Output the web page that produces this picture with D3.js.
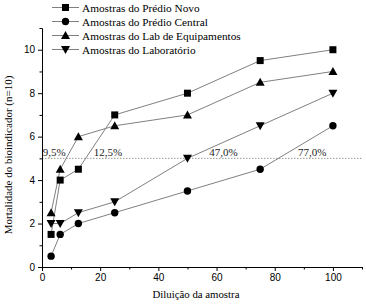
<!DOCTYPE html>
<html>
<head>
<meta charset="utf-8">
<script src="https://cdn.jsdelivr.net/npm/d3@7"></script>
<style>
  body { margin: 0; background: #fff; }
  svg { display: block; }
</style>
</head>
<body>
<div id="chart"></div>
<script>
// dataset
var dilutions = [3.125, 6.25, 12.5, 25, 50, 75, 100];
var seriesNames = ['Amostras do Prédio Novo', 'Amostras do Prédio Central', 'Amostras do Lab de Equipamentos', 'Amostras do Laboratório'];
var predioNovo = [1.5, 4, 4.5, 7, 8, 9.5, 10];
var predioCentral = [0.5, 1.5, 2, 2.5, 3.5, 4.5, 6.5];
var labEquip = [2.5, 4.5, 6, 6.5, 7, 8.5, 9];
var laboratorio = [2, 2, 2.5, 3, 5, 6.5, 8];
var symbols = ['square', 'circle', 'up', 'down'];
var xTicks = [0, 20, 40, 60, 80, 100];
var yTicks = [0, 2, 4, 6, 8, 10];
var refLevel = 5;
var refLabels = ['9,5%', '12,5%', '47,0%', '77,0%'];
var refLabelX = [0.3, 17.8, 57.5, 88];

var allSeries = [predioNovo, predioCentral, labEquip, laboratorio];

// dimensions
var width = 366, height = 305;
var margin = { left: 42, right: 4, top: 28, bottom: 38 };

var svg = d3.select('#chart').append('svg')
    .attr('width', width)
    .attr('height', height);

var x = d3.scaleLinear().domain([0, 110]).range([margin.left, width - margin.right]);
var y = d3.scaleLinear().domain([0, 11]).range([height - margin.bottom, margin.top]);

// reference line
svg.append('line')
    .attr('x1', x(0)).attr('x2', x(110))
    .attr('y1', y(refLevel)).attr('y2', y(refLevel))
    .attr('stroke', '#999')
    .attr('stroke-width', 1)
    .attr('stroke-dasharray', '1.5,1.5');

svg.selectAll('text.ref')
    .data(refLabels)
    .enter().append('text')
    .attr('class', 'ref')
    .attr('x', function(d, i) { return x(refLabelX[i]); })
    .attr('y', y(refLevel) - 2)
    .attr('font-family', 'Liberation Serif, serif')
    .attr('font-size', 11)
    .attr('fill', '#222')
    .text(function(d) { return d; });

// axes
svg.append('g')
    .attr('transform', 'translate(0,' + y(0) + ')')
    .call(d3.axisBottom(x).tickValues(xTicks).tickSize(4).tickPadding(3).tickSizeOuter(0));
svg.append('g')
    .attr('transform', 'translate(0,' + y(0) + ')')
    .call(d3.axisBottom(x).tickValues([10, 30, 50, 70, 90, 110]).tickSize(2.5).tickFormat('').tickSizeOuter(0));
svg.append('g')
    .attr('transform', 'translate(' + x(0) + ',0)')
    .call(d3.axisLeft(y).tickValues(yTicks).tickSize(4).tickPadding(3).tickSizeOuter(0));
svg.append('g')
    .attr('transform', 'translate(' + x(0) + ',0)')
    .call(d3.axisLeft(y).tickValues([1, 3, 5, 7, 9, 11]).tickSize(2.5).tickFormat('').tickSizeOuter(0));

svg.selectAll('.domain').attr('stroke', '#000').attr('stroke-width', 1);
svg.selectAll('.tick line').attr('stroke', '#000');
svg.selectAll('.tick text')
    .attr('font-family', 'Liberation Sans, Arial, sans-serif')
    .attr('font-size', 10)
    .attr('fill', '#000');

// axis titles
svg.append('text')
    .attr('x', 196)
    .attr('y', 298)
    .attr('text-anchor', 'middle')
    .attr('font-family', 'Liberation Serif, serif')
    .attr('font-size', 10.8)
    .text('Diluição da amostra');

svg.append('text')
    .attr('transform', 'translate(12,155) rotate(-90)')
    .attr('text-anchor', 'middle')
    .attr('font-family', 'Liberation Serif, serif')
    .attr('font-size', 11)
    .text('Mortalidade do bioindicador (n=10)');

// marker helper
function drawMarker(g, type, cx, cy) {
    if (type === 'square') {
        g.append('rect').attr('x', cx - 3.5).attr('y', cy - 3.5).attr('width', 7).attr('height', 7).attr('fill', '#000');
    } else if (type === 'circle') {
        g.append('circle').attr('cx', cx).attr('cy', cy).attr('r', 3.7).attr('fill', '#000');
    } else if (type === 'up') {
        g.append('path').attr('d', 'M' + cx + ',' + (cy - 4.5) + 'L' + (cx + 4.5) + ',' + (cy + 3.5) + 'L' + (cx - 4.5) + ',' + (cy + 3.5) + 'Z').attr('fill', '#000');
    } else {
        g.append('path').attr('d', 'M' + cx + ',' + (cy + 4.5) + 'L' + (cx + 4.5) + ',' + (cy - 3.5) + 'L' + (cx - 4.5) + ',' + (cy - 3.5) + 'Z').attr('fill', '#000');
    }
}

var line = d3.line()
    .x(function(d, i) { return x(dilutions[i]); })
    .y(function(d) { return y(d); });

allSeries.forEach(function(s) {
    svg.append('path')
        .datum(s)
        .attr('d', line)
        .attr('fill', 'none')
        .attr('stroke', '#808080')
        .attr('stroke-width', 1);
});
allSeries.forEach(function(s, k) {
    var g = svg.append('g');
    s.forEach(function(v, i) {
        drawMarker(g, symbols[k], x(dilutions[i]), y(v));
    });
});

// legend
var legend = svg.append('g');
seriesNames.forEach(function(name, k) {
    var ly = 7.5 + k * 14;
    legend.append('line')
        .attr('x1', 52).attr('x2', 79)
        .attr('y1', ly).attr('y2', ly)
        .attr('stroke', '#808080');
    drawMarker(legend, symbols[k], 65.5, ly);
    legend.append('text')
        .attr('x', 82)
        .attr('y', ly + 4)
        .attr('font-family', 'Liberation Serif, serif')
        .attr('font-size', 11.3)
        .text(name);
});
</script>
</body>
</html>
